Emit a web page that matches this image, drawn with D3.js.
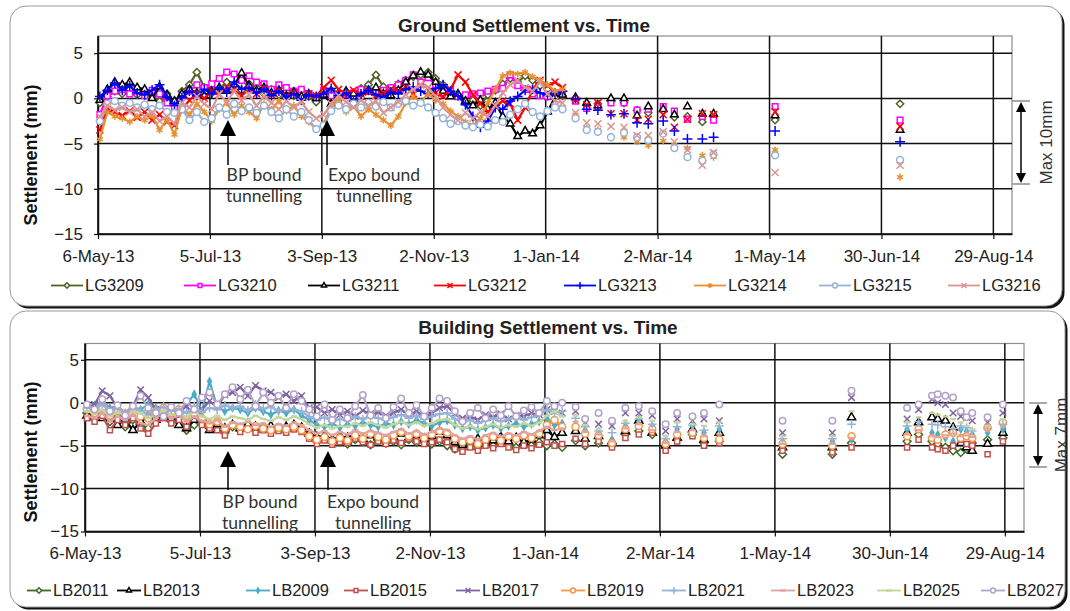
<!DOCTYPE html>
<html>
<head>
<meta charset="utf-8">
<script src="https://d3js.org/d3.v7.min.js"></script>
<style>
  body { margin: 0; background: #fff; }
  svg { font-family: "Liberation Sans", Arial, sans-serif; }
</style>
</head>
<body>
<svg width="1070" height="611"></svg>
<script>

// time axis
var startDate = "2013-05-06", endDate = "2014-09-08";
var tickDates = ["2013-05-06", "2013-07-05", "2013-09-03", "2013-11-02", "2014-01-01",
                 "2014-03-02", "2014-05-01", "2014-06-30", "2014-08-29"];
var tickLabels = ["6-May-13", "5-Jul-13", "3-Sep-13", "2-Nov-13", "1-Jan-14",
                  "2-Mar-14", "1-May-14", "30-Jun-14", "29-Aug-14"];
var yTicks = [5, 0, -5, -10, -15];

// days after 6-May-13 of the daily-ish readings, then of the later spot readings
var denseDays = [1, 5, 9, 13, 17, 21, 25, 29, 33, 37, 41, 45, 49, 53, 57, 61, 65, 69, 73, 77,
  81, 85, 89, 93, 97, 101, 105, 109, 113, 117, 121, 125, 129, 133, 137, 141, 145, 149, 153, 157,
  161, 165, 169, 173, 177, 181, 185, 189, 193, 197, 201, 205, 209, 213, 217, 221, 225, 229, 233, 237,
  241, 245, 249];
var groundSpotDays = [256, 262, 268, 275, 282, 289, 295, 303, 309, 316, 324, 330, 363, 430];
var buildSpotDays = [256, 261, 268, 275, 282, 289, 296, 303, 309, 317, 323, 331, 364, 390, 400,
  429, 435, 442, 445, 449, 453, 457, 460, 463, 471, 479];

// ground markers (mm)
var LG3209 = [-0.5, 0.2, 0.8, 0.5, 1.0, 0.4, 0.6, 0.2, -0.3, 0.5, -0.6, 0.8, 1.5, 2.9, 1.2, 0.6, 1.0, 1.8, 1.4, 0.9,
  1.6, 1.2, 0.5, 1.0, 0.4, 0.8, 0.3, 0.9, 0.2, -0.4, 0.6, 0.9, 0.3, 0.7, 0.2, 1.1, 1.5, 2.6, 1.3, 0.8,
  1.6, 2.0, 2.4, 2.6, 2.9, 2.2, 1.5, 0.8, 0.3, -0.5, -0.2, -0.8, 0.4, 0.9, 1.6, 2.2, 1.8, 2.5, 2.0, 1.4, 1.0, 0.6, 0.3];
var LG3210 = [-1.8, 0.3, 0.8, 1.0, 0.5, 0.8, 0.3, 0.9, 0.5, -0.5, -1.0, 0.3, 0.8, 1.5, 1.2, 1.6, 2.2, 2.9, 2.7, 2.0,
  2.5, 1.8, 1.6, 1.0, 1.5, 1.2, 0.8, 1.0, 0.5, 0.2, 0.9, 0.3, -0.5, 0.4, 0.6, 1.0, 0.8, 0.6, 0.9, 1.2,
  1.5, 2.0, 2.6, 1.8, 2.3, 1.5, 0.6, 0.8, 0.2, 0.4, 0.5, 0.6, 0.8, 1.0, 1.1, 2.6, 1.4, 1.0, 0.5, 0.3, 0.2, 0.5, 0.4];
var LG3211 = [-0.2, 1.0, 1.8, 1.5, 1.8, 1.2, 1.0, 0.0, 1.3, 0.4, -0.3, 0.5, 1.0, 0.6, 0.3, 0.8, 1.2, 0.8, 1.5, 2.8,
  1.4, 0.9, 1.2, 0.6, 0.9, 0.3, 0.7, 0.2, 0.5, 0.0, 0.4, -0.6, 0.3, 0.8, 0.5, 0.2, 0.9, 1.2, 0.5, 0.3,
  0.9, 1.8, 2.5, 2.9, 2.6, 1.8, 0.8, 0.2, 0.5, -0.3, -0.8, -0.2, -1.2, -0.5, -2.0, -2.8, -4.2, -3.6, -3.9, -3.0, -1.5, 0.2, 0.4];
var LG3212 = [-3.5, -1.2, -1.5, -1.9, -1.4, -2.1, -1.5, -2.4, -1.8, -2.6, -3.0, -1.3, -0.2, 0.5, 0.0, 0.8, 0.4, 1.2, 0.9, 0.3,
  1.0, 0.5, 1.1, 0.4, 0.8, 0.2, 0.6, -0.3, 0.5, 0.3, 1.2, 2.0, 1.0, 0.5, 0.9, 0.4, 0.7, 0.3, 0.6, 1.0,
  0.8, 1.2, 0.5, 1.5, 1.2, 0.6, 0.2, 1.0, 2.6, 1.8, 0.4, -0.6, -1.5, -0.8, -0.3, -0.6, -2.4, -1.0, 1.0, 2.0, 1.4, 1.8, 1.2];
var LG3213 = [0.2, 0.9, 1.7, 0.9, 1.4, 0.6, 0.4, 0.9, 1.5, 0.2, -0.8, 0.1, 0.8, 0.3, 1.0, 0.5, 1.2, 0.7, 1.8, 1.0,
  1.2, 0.6, 1.0, 0.3, 0.8, 0.1, 0.5, -0.2, 0.4, 0.2, 0.5, 1.1, 0.3, 0.6, -0.3, 0.5, 0.9, 0.4, 0.1, 0.7,
  0.5, 1.0, 1.3, 0.8, 0.5, 1.1, 1.5, 0.8, 0.3, -0.7, -2.0, -3.2, -2.5, -1.0, -1.2, -0.3, 0.2, 0.9, 1.0, 0.6, 0.3, 0.6, 0.8];
var LG3214 = [-4.5, -1.5, -2.0, -2.2, -2.6, -2.0, -2.4, -1.9, -3.5, -2.3, -4.0, -1.0, -1.8, -0.6, -1.5, -2.5, -1.2, -0.5, -1.8, -0.8,
  -1.5, -2.2, -0.6, -1.2, -0.3, -1.4, -0.8, -2.0, -2.6, -3.4, -2.8, -1.0, 0.0, -1.5, -0.8, -2.0, -1.2, -1.8, -2.4, -3.0,
  -2.0, -0.5, 0.2, -0.4, 0.5, -0.2, -0.6, -1.4, -2.0, -2.6, -3.0, -2.2, -0.5, 1.0, 2.5, 2.8, 2.7, 2.9, 2.4, 2.0, 1.5, 0.8, 1.0];
var LG3215 = [-2.5, -0.6, -0.3, -0.8, -0.5, -1.0, -0.7, -1.2, -0.8, -1.5, -1.6, -1.2, -2.4, -1.5, -2.6, -2.2, -1.0, -1.8, -0.6, -1.4,
  -1.0, -1.6, -0.8, -1.5, -2.2, -1.2, -2.0, -1.5, -2.4, -3.4, -3.0, -1.4, -0.8, -1.2, -0.6, -1.0, -0.5, -0.9, -0.4, -1.0,
  -0.6, -0.3, -0.8, -0.5, -1.0, -1.6, -2.2, -2.8, -2.5, -3.0, -3.2, -2.9, -3.1, -2.4, -2.6, -1.8, -1.2, -0.6, -1.5, -2.0, -1.4, -1.0, -1.2];
var LG3216 = [-2.0, -0.8, -1.3, -1.0, -1.5, -1.2, -2.0, -1.5, -2.5, -2.0, -2.8, -0.5, -1.0, 0.2, -0.6, -1.2, 0.5, -0.4, 0.8, -0.2,
  0.4, -0.8, 0.2, -0.5, -1.2, -0.3, -1.0, -0.4, -1.5, -2.2, -1.8, -0.6, 0.3, -0.4, -1.0, -0.2, -0.8, -0.3, -1.6, -1.0,
  -0.4, 0.4, 1.0, 1.5, 1.2, 0.2, -1.0, -1.8, -2.4, -1.6, -2.2, -1.5, -2.0, -0.8, 0.6, 1.5, 2.0, 1.2, 0.8, 1.8, 0.5, -0.3, -0.5];

var LG3209spot = [0.0, -0.8, -0.6, -0.3, -0.5, -1.3, -1.6, -1.4, -2.1, -2.0, -2.6, -2.0, -2.4, -0.6];
var LG3210spot = [-0.3, -1.1, -0.9, -0.5, -0.5, -1.3, -1.2, -0.9, -1.4, -2.3, -2.0, -2.4, -0.9, -2.4];
var LG3211spot = [0.1, -0.5, -0.8, 0.0, 0.0, -1.9, -0.9, -1.2, -1.8, -0.9, -1.7, -1.7, -1.9, -3.5];
var LG3212spot = [-0.2, -0.7, -0.5, -1.7, -1.7, -2.4, -2.3, -1.8, -3.2, -2.3, -1.7, -1.8, -1.5, -3.1];
var LG3213spot = [0.0, -1.2, -1.3, -1.8, -1.7, -2.7, -2.8, -2.5, -3.6, -4.5, -4.5, -4.3, -3.6, -4.8];
var LG3214spot = [-1.8, -3.3, -3.5, -4.3, -4.3, -4.8, -5.2, -4.7, -5.2, -5.5, -6.3, -6.5, -5.7, -8.7];
var LG3215spot = [-2.2, -3.5, -3.7, -4.3, -3.8, -4.3, -4.6, -3.9, -5.5, -6.5, -6.9, -6.2, -6.3, -6.8];
var LG3216spot = [-1.6, -2.7, -2.8, -3.1, -3.2, -4.1, -4.1, -3.7, -4.8, -5.7, -7.4, -6.0, -8.2, -7.4];

// building markers (mm)
var LB2011 = [-1.2, -1.8, -1.5, -2.2, -1.6, -2.8, -2.0, -2.5, -3.0, -1.8, -1.4, -2.2, -1.8, -3.2, -2.6, -2.0, -3.0, -2.4, -3.5, -2.8,
  -3.2, -2.6, -3.0, -2.8, -3.3, -2.9, -3.1, -2.7, -3.0, -3.8, -4.4, -4.0, -4.6, -4.2, -4.8, -4.3, -4.5, -4.9, -4.4, -4.7,
  -4.5, -4.9, -4.3, -4.6, -4.4, -4.8, -4.5, -5.0, -5.4, -5.2, -4.8, -5.1, -4.7, -5.0, -4.6, -4.9, -5.2, -4.8, -5.0, -4.6, -5.0, -4.8, -5.2];
var LB2013 = [-1.5, -1.0, -1.8, -1.4, -2.6, -2.0, -3.2, -2.2, -1.6, -2.0, -1.2, -1.8, -2.6, -3.0, -2.0, -1.8, -3.2, -2.5, -3.0, -2.6,
  -3.0, -2.5, -2.8, -3.1, -2.7, -3.0, -2.8, -2.6, -2.9, -3.6, -4.0, -3.8, -4.3, -3.9, -4.1, -3.6, -4.2, -3.8, -4.0, -4.3,
  -4.0, -3.6, -4.1, -3.8, -4.2, -3.9, -3.4, -3.8, -4.6, -4.9, -4.5, -4.2, -4.8, -4.4, -4.0, -4.5, -4.1, -4.6, -4.3, -3.8, -3.2, -4.0, -3.5];
var LB2009 = [-0.5, -0.3, 0.2, -0.6, -0.4, -1.2, -0.5, -0.8, -0.2, -0.6, -0.4, -0.8, -1.2, -0.2, 1.0, -1.0, 2.5, -0.5, -1.0, -0.6,
  -0.8, -1.2, -0.6, -1.0, -1.4, -0.9, -1.2, -0.8, -1.5, -2.0, -2.6, -2.8, -2.4, -2.9, -2.5, -2.7, -2.3, -2.6, -2.8, -2.4,
  -2.6, -2.2, -2.5, -2.0, -2.4, -2.7, -2.3, -2.1, -2.6, -3.0, -2.8, -3.2, -2.9, -2.6, -3.0, -2.7, -2.4, -2.8, -2.5, -2.2, -1.8, -2.6, -2.4];
var LB2015 = [-1.8, -2.2, -1.5, -3.2, -2.0, -2.6, -1.8, -3.0, -3.6, -2.4, -1.8, -2.4, -2.0, -2.8, -1.5, -2.6, -3.0, -3.2, -3.8, -2.6,
  -3.4, -3.0, -3.5, -3.2, -3.6, -3.3, -3.5, -3.1, -3.4, -4.2, -4.8, -4.4, -4.9, -4.6, -4.7, -4.2, -4.6, -4.9, -4.5, -4.8,
  -4.4, -4.7, -4.2, -4.5, -4.8, -4.6, -4.3, -4.6, -5.4, -5.7, -5.2, -5.6, -5.0, -5.3, -4.8, -5.2, -5.5, -5.0, -5.3, -4.9, -4.6, -5.0, -4.8];
var LB2017 = [-0.5, -0.2, 1.4, 0.8, -0.6, -1.2, -0.4, 1.5, 0.6, -0.8, -1.5, -0.6, -1.0, -0.4, -1.6, -0.8, 0.2, -0.5, 0.9, 1.2,
  1.8, 0.8, 2.0, 1.4, 1.2, 0.6, 1.0, 0.2, 0.8, -0.6, -0.5, -1.2, -0.8, -1.4, -1.0, -1.6, -0.9, -1.3, -1.1, -1.5,
  -1.2, -0.8, -1.4, -1.0, -1.6, -1.2, -0.6, -0.4, -1.3, -1.8, -1.6, -2.0, -1.4, -1.7, -1.3, -1.9, -1.5, -1.6, -1.2, -1.4, -0.8, -1.0, -1.2];
var LB2019 = [-0.8, -1.2, -0.6, -1.5, -1.0, -1.3, -0.8, -1.6, -1.8, -1.0, -0.6, -1.2, -0.8, -1.5, -1.2, -1.8, -2.5, -2.2, -3.0, -2.6,
  -2.8, -3.1, -2.7, -3.0, -3.2, -2.9, -3.1, -2.8, -3.2, -3.9, -4.3, -4.0, -4.5, -4.1, -4.4, -3.8, -4.2, -3.6, -4.0, -4.3,
  -3.8, -3.4, -3.9, -3.6, -4.1, -3.7, -3.3, -3.5, -4.2, -4.6, -4.4, -4.8, -4.3, -4.0, -4.4, -3.9, -4.2, -3.8, -4.1, -3.6, -2.6, -2.0, -2.8];
var LB2021 = [-0.6, -0.8, -0.2, -1.0, -0.7, -1.2, -0.6, -0.9, -1.3, -0.8, -0.5, -1.0, -0.7, -1.2, -0.4, -1.1, -0.6, -0.8, -0.3, -0.6,
  -0.4, -0.9, -0.2, -0.7, -0.5, -1.0, -0.6, -0.8, -1.0, -1.6, -2.0, -1.7, -2.2, -1.9, -2.1, -1.6, -1.9, -1.5, -1.8, -2.0,
  -1.7, -1.4, -1.8, -1.5, -1.9, -1.6, -1.3, -1.2, -1.9, -2.3, -2.0, -2.4, -2.1, -1.8, -2.2, -1.9, -1.6, -2.0, -1.7, -1.4, -0.8, -1.2, -1.0];
var LB2023 = [-1.5, -1.8, -1.2, -2.2, -1.6, -2.0, -1.4, -2.4, -2.6, -1.8, -1.2, -1.8, -1.5, -2.2, -1.6, -2.1, -2.4, -2.0, -2.8, -2.3,
  -2.5, -2.2, -2.6, -2.4, -2.8, -2.5, -2.7, -2.3, -2.6, -3.2, -3.6, -3.3, -3.8, -3.4, -3.7, -3.2, -3.6, -3.3, -3.5, -3.8,
  -3.4, -3.1, -3.6, -3.3, -3.7, -3.4, -3.0, -3.2, -3.8, -4.2, -3.9, -4.3, -3.8, -3.5, -3.9, -3.6, -3.8, -3.4, -3.7, -3.3, -2.8, -3.2, -3.0];
var LB2025 = [-1.0, -1.3, -0.8, -1.6, -1.1, -1.5, -1.0, -1.2, -1.8, -1.4, -0.9, -1.4, -1.1, -1.7, -1.0, -1.6, -1.9, -1.5, -2.0, -1.6,
  -1.8, -2.0, -1.5, -1.9, -2.1, -1.7, -2.0, -1.6, -1.9, -2.5, -2.9, -2.6, -3.0, -2.7, -2.8, -2.4, -2.7, -2.3, -2.6, -2.9,
  -2.5, -2.2, -2.6, -2.3, -2.7, -2.4, -2.0, -1.9, -2.6, -3.0, -2.7, -3.1, -2.8, -2.5, -2.9, -2.6, -2.8, -2.4, -2.7, -2.3, -1.5, -1.0, -1.6];
var LB2027 = [-0.2, -0.8, 0.4, -1.0, -0.3, -1.5, -0.4, 0.8, -0.6, -1.2, -1.6, -0.5, -1.2, 0.2, -0.8, 0.6, 1.2, -0.2, 1.0, 1.8,
  0.4, 1.5, -0.4, 1.2, 0.0, 0.8, -0.6, 1.0, 0.2, -0.8, -1.6, -0.2, -2.0, -0.8, -1.8, -0.4, 0.9, -1.5, -0.6, -1.8,
  -0.5, 0.5, -1.2, -0.3, -1.6, -0.6, 0.5, 0.2, -1.0, -2.2, -1.2, -0.6, -1.8, -0.8, -1.5, -0.4, -1.6, -0.9, -0.5, -1.2, 0.2, -0.4, 0.0];

var LB2011spot = [-4.4, -5.0, -4.7, -5.0, -3.7, -3.3, -3.7, -5.2, -4.3, -3.7, -4.7, -4.5, -6.0, -6.0, -4.7, -4.5, -3.7, -4.5, -4.8, -5.2, -5.6, -5.8, -5.4, -4.7, -4.3, -4.1];
var LB2013spot = [-3.3, -4.2, -3.9, -4.5, -3.3, -2.1, -3.5, -5.0, -4.1, -3.1, -4.3, -3.5, -5.2, -5.2, -1.7, -3.5, -2.3, -1.7, -1.9, -2.1, -2.9, -4.7, -5.2, -5.6, -4.8, -3.5];
var LB2009spot = [-2.6, -3.2, -3.5, -4.3, -2.7, -1.9, -2.7, -4.5, -3.1, -2.7, -3.5, -3.1, -4.5, -4.5, -4.3, -3.1, -2.7, -3.5, -3.7, -4.1, -4.5, -3.1, -3.3, -3.7, -3.5, -3.1];
var LB2015spot = [-4.2, -4.8, -4.5, -5.2, -4.1, -3.7, -3.5, -5.6, -4.5, -3.9, -5.0, -4.7, -5.6, -5.8, -5.2, -5.2, -4.3, -5.2, -5.4, -5.6, -5.0, -4.3, -4.8, -5.0, -6.0, -4.5];
var LB2017spot = [-1.0, -2.3, -2.5, -2.7, -1.2, -1.2, -1.5, -3.3, -1.9, -2.1, -1.9, -2.1, -3.5, -3.5, 0.6, -1.9, -0.8, 0.4, 0.0, -0.2, -1.2, -1.6, -1.7, -2.1, -2.3, -1.2];
var LB2019spot = [-2.8, -3.6, -3.8, -4.7, -3.1, -2.7, -3.1, -4.8, -3.7, -3.5, -4.1, -4.3, -4.8, -5.0, -3.9, -3.9, -3.1, -4.1, -4.3, -3.7, -3.5, -4.1, -3.9, -4.1, -2.9, -2.3];
var LB2021spot = [-1.8, -2.8, -3.3, -3.5, -2.4, -1.9, -2.5, -4.2, -2.8, -2.6, -3.2, -2.7, -4.2, -4.2, -2.5, -2.7, -2.2, -2.5, -2.6, -2.8, -3.0, -2.7, -2.9, -3.3, -3.0, -2.5];
var LB2023spot = [-2.2, -3.4, -3.7, -4.5, -3.0, -2.5, -3.2, -4.7, -3.4, -3.2, -3.9, -3.7, -4.8, -4.8, -4.1, -3.7, -3.2, -3.9, -4.0, -3.8, -3.6, -3.9, -3.8, -4.0, -3.0, -2.8];
var LB2025spot = [-1.5, -2.6, -3.1, -2.3, -2.1, -1.7, -2.1, -3.9, -2.3, -2.5, -2.7, -2.3, -3.9, -3.9, -1.0, -2.3, -1.7, -1.2, -1.4, -1.6, -1.9, -2.3, -2.7, -3.1, -2.7, -1.9];
var LB2027spot = [-0.5, -1.9, -1.2, -2.1, -0.6, -0.4, -1.0, -2.5, -1.2, -1.6, -1.2, -0.2, -2.1, -2.1, 1.4, -0.6, -0.2, 0.8, 1.0, 0.8, 0.6, -1.0, -1.7, -1.2, -1.7, -0.2];

var groundSeries = [
  {name: "LG3209", dense: LG3209, spot: LG3209spot, color: "#4f6228", sym: "diamond", k: 1},
  {name: "LG3210", dense: LG3210, spot: LG3210spot, color: "#ff00ff", sym: "square", k: 1.2},
  {name: "LG3211", dense: LG3211, spot: LG3211spot, color: "#000000", sym: "triangle", k: 1.2},
  {name: "LG3212", dense: LG3212, spot: LG3212spot, color: "#ff0000", sym: "times", k: 1},
  {name: "LG3213", dense: LG3213, spot: LG3213spot, color: "#0000ff", sym: "plus", k: 1},
  {name: "LG3214", dense: LG3214, spot: LG3214spot, color: "#e8902f", sym: "asterisk", k: 1},
  {name: "LG3215", dense: LG3215, spot: LG3215spot, color: "#95b3d7", sym: "circle", k: 1.1},
  {name: "LG3216", dense: LG3216, spot: LG3216spot, color: "#d99694", sym: "times", k: 1}
];
var buildSeries = [
  {name: "LB2011", dense: LB2011, spot: LB2011spot, color: "#3e6a25", sym: "diamond", k: 1.3},
  {name: "LB2013", dense: LB2013, spot: LB2013spot, color: "#000000", sym: "triangle", k: 1.6},
  {name: "LB2009", dense: LB2009, spot: LB2009spot, color: "#4bacc6", sym: "dot", k: 0.9},
  {name: "LB2015", dense: LB2015, spot: LB2015spot, color: "#c0504d", sym: "square", k: 1.1},
  {name: "LB2017", dense: LB2017, spot: LB2017spot, color: "#8064a2", sym: "times", k: 1},
  {name: "LB2019", dense: LB2019, spot: LB2019spot, color: "#f79646", sym: "circle", k: 1.3},
  {name: "LB2021", dense: LB2021, spot: LB2021spot, color: "#95b3d7", sym: "plus", k: 0.9},
  {name: "LB2023", dense: LB2023, spot: LB2023spot, color: "#e0a3a1", sym: "none", k: 1},
  {name: "LB2025", dense: LB2025, spot: LB2025spot, color: "#c3d69b", sym: "none", k: 1},
  {name: "LB2027", dense: LB2027, spot: LB2027spot, color: "#b3a2c7", sym: "ring", k: 1.1}
];

var svg = d3.select("svg");
var parse = d3.timeParse("%Y-%m-%d");
var t0 = parse(startDate), t1 = parse(endDate);
function onDay(d) { return d3.timeDay.offset(t0, d); }

var symbolTypes = {
  diamond: d3.symbolDiamond2, square: d3.symbolSquare2, triangle: d3.symbolTriangle2,
  times: d3.symbolTimes, plus: d3.symbolPlus, asterisk: d3.symbolAsterisk,
  circle: d3.symbolCircle, ring: d3.symbolCircle, dot: d3.symbolDiamond
};

function marker(g, s, cx, cy, size) {
  if (s.sym == "none") {
    g.append("line").attr("x1", cx - 3).attr("x2", cx + 3).attr("y1", cy).attr("y2", cy)
      .attr("stroke", s.color).attr("stroke-width", 2.2);
    return;
  }
  var open = ["diamond", "square", "triangle", "circle", "ring"].indexOf(s.sym) >= 0;
  var path = g.append("path")
    .attr("d", d3.symbol().type(symbolTypes[s.sym]).size(size)())
    .attr("transform", "translate(" + cx + "," + cy + ")");
  if (s.sym == "dot") path.attr("fill", s.color);
  else path.attr("fill", open ? "#fff" : "none").attr("stroke", s.color).attr("stroke-width", 1.5);
}

function upArrow(g, x, tip, tail) {
  g.append("line").attr("x1", x).attr("x2", x).attr("y1", tip + 10).attr("y2", tail)
    .attr("stroke", "#000").attr("stroke-width", 1.5);
  g.append("path").attr("d", "M" + x + "," + tip + "L" + (x - 8) + "," + (tip + 16) + "L" + (x + 8) + "," + (tip + 16) + "Z")
    .attr("fill", "#000");
}

function span(g, x, y1, y2, label, lx) {
  g.append("line").attr("x1", x - 9).attr("x2", x + 9).attr("y1", y1).attr("y2", y1).attr("stroke", "#8c8c8c").attr("stroke-width", 1.5);
  g.append("line").attr("x1", x - 9).attr("x2", x + 9).attr("y1", y2).attr("y2", y2).attr("stroke", "#8c8c8c").attr("stroke-width", 1.5);
  g.append("line").attr("x1", x).attr("x2", x).attr("y1", y1 + 8).attr("y2", y2 - 8).attr("stroke", "#000").attr("stroke-width", 1.5);
  g.append("path").attr("d", "M" + x + "," + (y1 + 1) + "L" + (x - 5) + "," + (y1 + 11) + "L" + (x + 5) + "," + (y1 + 11) + "Z");
  g.append("path").attr("d", "M" + x + "," + (y2 - 1) + "L" + (x - 5) + "," + (y2 - 11) + "L" + (x + 5) + "," + (y2 - 11) + "Z");
  g.append("text").attr("transform", "translate(" + lx + "," + ((y1 + y2) / 2) + ") rotate(-90)")
    .attr("text-anchor", "middle").attr("dy", "0.35em")
    .attr("font-size", 17).attr("fill", "#333").text(label);
}

function drawPanel(p) {
  var g = svg.append("g");

  // rounded frame with dark lower-right edge
  g.append("rect").attr("x", p.box[0] + 2.5).attr("y", p.box[1] + 2.5).attr("width", p.box[2]).attr("height", p.box[3])
    .attr("rx", 16).attr("fill", "#111");
  g.append("rect").attr("x", p.box[0]).attr("y", p.box[1]).attr("width", p.box[2]).attr("height", p.box[3])
    .attr("rx", 16).attr("fill", "#fff").attr("stroke", "#9a9a9a");

  var x = d3.scaleTime().domain([t0, t1]).range([p.l, p.r]);
  var y = d3.scaleLinear().domain([-15, 6.9]).range([p.b, p.t]);

  g.append("rect").attr("x", p.l).attr("y", p.t).attr("width", p.r - p.l).attr("height", p.b - p.t)
    .attr("fill", "none").attr("stroke", "#8c8c8c").attr("stroke-width", 1.2);

  g.selectAll(".hgrid").data(yTicks).enter().append("line")
    .attr("x1", p.l).attr("x2", p.r)
    .attr("y1", function(d) { return y(d); }).attr("y2", function(d) { return y(d); })
    .attr("stroke", "#111").attr("stroke-width", 1.5);
  g.selectAll(".vgrid").data(tickDates).enter().append("line")
    .attr("x1", function(d) { return x(parse(d)); }).attr("x2", function(d) { return x(parse(d)); })
    .attr("y1", p.t).attr("y2", p.b)
    .attr("stroke", "#111").attr("stroke-width", 1.5);

  var xAxis = g.append("g").attr("transform", "translate(0," + p.b + ")")
    .call(d3.axisBottom(x).tickValues(tickDates.map(parse))
      .tickFormat(function(d, i) { return tickLabels[i]; })
      .tickSize(5).tickSizeOuter(0).tickPadding(p.xpad));
  var yAxis = g.append("g").attr("transform", "translate(" + p.l + ",0)")
    .call(d3.axisLeft(y).tickValues(yTicks).tickSize(4).tickSizeOuter(0).tickPadding(p.ypad));
  [xAxis, yAxis].forEach(function(a) {
    a.select(".domain").attr("stroke", "#111").attr("stroke-width", 1.5);
    a.selectAll(".tick line").attr("stroke", "#111").attr("stroke-width", 1.2);
    a.selectAll("text").attr("font-size", 17).attr("fill", "#222")
      .attr("font-family", "Liberation Sans, Arial, sans-serif");
  });

  g.append("text").attr("transform", "translate(" + p.ytx + "," + p.yty + ") rotate(-90)")
    .attr("text-anchor", "middle").attr("font-size", 18).attr("font-weight", "bold").attr("fill", "#111")
    .text("Settlement (mm)");
  g.append("text").attr("x", p.titleX).attr("y", p.titleY).attr("text-anchor", "middle")
    .attr("font-size", 19).attr("font-weight", "bold").attr("fill", "#222").text(p.title);

  // series: readings joined by lines through the dense period, markers everywhere
  var line = d3.line()
    .x(function(d) { return x(onDay(d[0])); })
    .y(function(d) { return y(d[1]); });
  var plot = g.append("g");
  p.series.forEach(function(s) {
    var dense = denseDays.map(function(d, i) { return [d, s.dense[i]]; });
    var spot = p.spotDays.map(function(d, i) { return [d, s.spot[i]]; });
    plot.append("path").datum(dense).attr("d", line)
      .attr("fill", "none").attr("stroke", s.color).attr("stroke-width", 2.2);
    var mg = plot.append("g");
    dense.concat(spot).forEach(function(d) {
      marker(mg, s, x(onDay(d[0])), y(d[1]), p.msize * s.k);
    });
  });

  // legend
  p.series.forEach(function(s, i) {
    var lx = p.legendX[i];
    g.append("line").attr("x1", lx - p.legLine).attr("x2", lx - 2)
      .attr("y1", p.legendY - 5.5).attr("y2", p.legendY - 5.5)
      .attr("stroke", s.color).attr("stroke-width", 1.8);
    marker(g, s, lx - 2 - p.legLine / 2 + 1, p.legendY - 5.5, 18);
    g.append("text").attr("x", lx).attr("y", p.legendY).attr("font-size", 16.5).attr("fill", "#222").text(s.name);
  });

  // tunnelling notes
  p.notes.forEach(function(n) {
    upArrow(g, n.ax, n.tip, n.tail);
    n.lines.forEach(function(t, i) {
      g.append("text").attr("x", n.tx).attr("y", n.ty + i * 21).attr("text-anchor", "middle")
        .attr("font-family", "Lato, 'Open Sans', sans-serif").attr("font-size", 17.5).attr("fill", "#333").text(t);
    });
  });

  span(g, p.span.x, p.span.y1, p.span.y2, p.span.label, p.span.lx);
}

drawPanel({
  box: [10, 6, 1052, 300], l: 98, r: 1012, t: 36, b: 234, xpad: 11, ypad: 11,
  ytx: 37, yty: 155, title: "Ground Settlement vs. Time", titleX: 524, titleY: 32,
  series: groundSeries, spotDays: groundSpotDays, msize: 34,
  legendX: [85, 218, 342, 468, 598, 728, 853, 982], legendY: 291, legLine: 34,
  notes: [
    {ax: 228, tip: 120, tail: 165, tx: 264, ty: 181, lines: ["BP bound", "tunnelling"]},
    {ax: 327, tip: 120, tail: 165, tx: 374, ty: 181, lines: ["Expo bound", "tunnelling"]}
  ],
  span: {x: 1021, y1: 101, y2: 184, label: "Max 10mm", lx: 1046}
});

drawPanel({
  box: [10, 311, 1055, 296], l: 85, r: 1024, t: 343.5, b: 531.5, xpad: 10, ypad: 2,
  ytx: 37, yty: 452, title: "Building Settlement vs. Time", titleX: 548, titleY: 334,
  series: buildSeries, spotDays: buildSpotDays, msize: 30,
  legendX: [53, 143, 272, 370, 482, 587, 688, 797, 903, 1007], legendY: 596, legLine: 26,
  notes: [
    {ax: 228, tip: 451, tail: 490, tx: 260, ty: 508, lines: ["BP bound", "tunnelling"]},
    {ax: 328, tip: 451, tail: 490, tx: 373, ty: 508, lines: ["Expo bound", "tunnelling"]}
  ],
  span: {x: 1038, y1: 403, y2: 467, label: "Max 7mm", lx: 1061}
});

</script>
</body>
</html>
